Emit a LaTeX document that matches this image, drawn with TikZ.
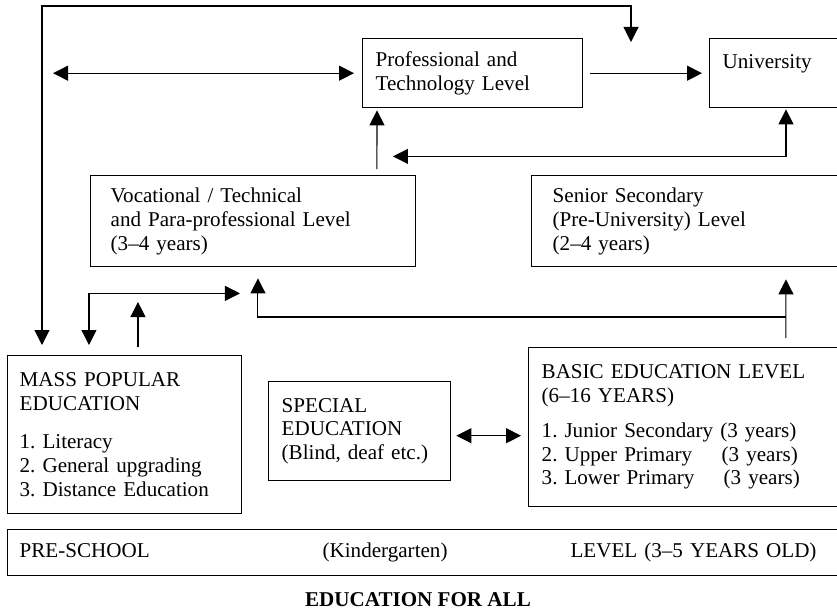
\documentclass[tikz,border=0pt]{standalone}
\usepackage{fontspec}
\setmainfont{Liberation Serif}
\usepackage{tikz}
\usetikzlibrary{arrows.meta, positioning, calc}

\begin{document}
\begin{tikzpicture}[
  x=0.02cm, y=-0.02cm,
  level/.style={draw, line width=0.8pt, anchor=north west, align=left, inner xsep=0.26cm, inner ysep=0pt, font=\fontsize{12}{13.6}\selectfont\frenchspacing},
  one/.style={-{Triangle[length=0.3cm, width=0.3cm]}, line width=0.6pt},
  dbl/.style={{Triangle[length=0.3cm, width=0.3cm]}-{Triangle[length=0.3cm, width=0.3cm]}, line width=0.6pt},
  motto/.style={font=\fontsize{12}{13.6}\selectfont\bfseries, anchor=base}
]
\useasboundingbox (0,0) rectangle (837,611);

\node[level, text width=3.88cm, minimum height=1.38cm] (prof) at (362,38) {Professional and\\Technology Level};
\node[level, text width=2.18cm, minimum height=1.38cm] (univ) at (709,38) {University\\~};
\node[level, inner xsep=0.4cm, text width=5.7cm, minimum height=1.82cm] (voc) at (90,175) {Vocational / Technical\\and Para-professional Level\\(3--4 years)};
\node[level, inner xsep=0.42cm, text width=5.42cm, minimum height=1.82cm] (senior) at (531,175) {Senior Secondary\\(Pre-University) Level\\(2--4 years)};
\node[level, inner xsep=0.24cm, text width=4.2cm, minimum height=3.16cm] (mass) at (7,355) {MASS POPULAR\\EDUCATION\\[8pt]1. Literacy\\2. General upgrading\\3. Distance Education};
\node[level, text width=3.12cm, minimum height=1.98cm] (special) at (268,381) {SPECIAL\\EDUCATION\\(Blind, deaf etc.)};
\node[level, text width=5.8cm, minimum height=3.18cm] (basic) at (528,347) {BASIC EDUCATION LEVEL\\(6--16 YEARS)\\[6pt]1. Junior Secondary (3 years)\\\makebox[3.6cm][l]{2. Upper Primary}(3 years)\\\makebox[3.64cm][l]{3. Lower Primary}(3 years)};
\node[level, inner xsep=0.24cm, text width=16.26cm, minimum height=0.92cm] (pre) at (7,529) {\makebox[6.06cm][l]{PRE-SCHOOL}\makebox[4.96cm][l]{(Kindergarten)}LEVEL (3--5 YEARS OLD)};
\node[motto] (efa) at (418,606) {EDUCATION FOR ALL};

\coordinate (drop) at (631,42);
\coordinate (farleft) at ([xshift=-6.18cm]prof.west);
\coordinate (sp) at ([yshift=-0.09cm]special.east);

\draw[dbl] ([xshift=0.7cm, yshift=0.2cm]mass.north west) |- ([yshift=0.72cm]drop) -- (drop);
\draw[dbl] (farleft) -- ([xshift=-0.16cm]prof.west);
\draw[one, shorten <=0.14cm, shorten >=0.14cm] (prof) -- (univ);
\draw[one] ([xshift=5.74cm, yshift=0.12cm]voc.north west) -- ([xshift=0.3cm, yshift=-0.04cm]prof.south west);
\draw[dbl] ([xshift=1.54cm, yshift=-0.02cm]univ.south west) |- ([xshift=0.62cm, yshift=-0.96cm]prof.south west);
\draw[one] ([xshift=5.16cm, yshift=0.18cm]basic.north west) -- ([xshift=5.1cm, yshift=-0.24cm]senior.south west);
\draw[one] ([xshift=5.16cm, yshift=0.6cm]basic.north west) -| ([xshift=3.36cm, yshift=-0.22cm]voc.south west);
\draw[dbl] ([xshift=1.64cm, yshift=0.2cm]mass.north west) |- ([xshift=3cm, yshift=-0.52cm]voc.south west);
\draw[one] ([xshift=2.62cm, yshift=0.16cm]mass.north west) -- ([xshift=2.62cm, yshift=1.06cm]mass.north west);
\draw[dbl, shorten <=0.1cm, shorten >=0.14cm] (sp) -- (sp -| basic.west);

\end{tikzpicture}
\end{document}
